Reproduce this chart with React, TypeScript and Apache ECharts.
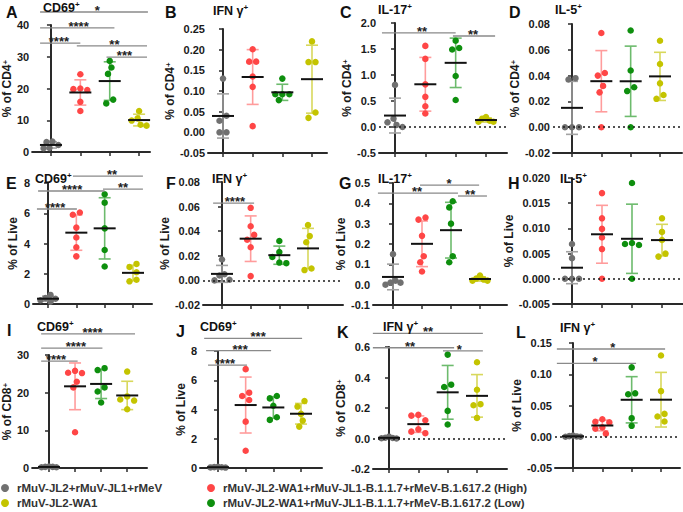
import { useEffect, useRef } from "react";
import * as echarts from "echarts";

const FONT = "'Liberation Sans', Arial, Helvetica, sans-serif";

const GROUPS = [
  "rMuV-JL2+rMuV-JL1+rMeV",
  "rMuV-JL2-WA1+rMuV-JL1-B.1.1.7+rMeV-B.1.617.2 (High)",
  "rMuV-JL2-WA1+rMuV-JL1-B.1.1.7+rMeV-B.1.617.2 (Low)",
  "rMuV-JL2-WA1",
];
const POINT_COLORS = ["#707070", "#ff4646", "#0e8f0e", "#c4c400"];
const ERR_COLORS = ["#a3a3a3", "#ff9c9c", "#6dbb6d", "#d8d85c"];

// values per group: [grey, red(High), green(Low), yellow]
const cd4CD69 = [[3.3, 3.1, 2.2, 1.3, 1.2], [24.5, 20.0, 19.8, 19.5, 15.8, 12.9], [28.7, 26.6, 24.6, 16.5, 15.3], [12.9, 10.6, 9.9, 8.6, 8.3]];
const cd4IFNg = [[0.13, 0.04, 0.028, 0, 0], [0.201, 0.171, 0.171, 0.135, 0.11, 0.015], [0.13, 0.092, 0.092, 0.092, 0.078], [0.22, 0.17, 0.17, 0.048, 0.035]];
const cd4IL17 = [[0.81, 0.16, 0.09, 0.04, 0.0], [1.56, 1.31, 0.82, 0.58, 0.4, 0.26], [1.66, 1.52, 1.49, 0.98, 0.52], [0.19, 0.16, 0.12, 0.1, 0.1]];
const cd4IL5 = [[0.038, 0.037, 0, 0, 0], [0.073, 0.042, 0.04, 0.032, 0.027, 0], [0.075, 0.044, 0.031, 0.028, 0], [0.067, 0.049, 0.034, 0.025, 0.022]];
const liveCD69 = [[0.6, 0.4, 0.35, 0.25, 0.15], [6.05, 5.9, 5.05, 4.4, 3.75, 3.15], [7.26, 6.7, 5.0, 3.57, 2.48], [2.65, 2.45, 2.1, 1.6, 1.5]];
const liveIFNg = [[0.017, 0.005, 0.004, 0.0005, 0], [0.059, 0.044, 0.037, 0.033, 0.027, 0.0035], [0.032, 0.023, 0.019, 0.0145, 0.014], [0.045, 0.036, 0.031, 0.0097, 0.0084]];
const liveIL17 = [[0.15, 0.02, 0.01, 0.01, 0.0], [0.33, 0.32, 0.24, 0.14, 0.11, 0.065], [0.41, 0.38, 0.3, 0.14, 0.11], [0.045, 0.03, 0.025, 0.02, 0.02]];
const liveIL5 = [[0.0069, 0.0041, 0, 0, 0], [0.017, 0.012, 0.0099, 0.0082, 0.0059, 0], [0.019, 0.0071, 0.0069, 0.0067, 0], [0.012, 0.0093, 0.0077, 0.005, 0.0044]];
const cd8CD69 = [[0.4, 0.3, 0.3, 0.2, 0.2], [25.8, 25.3, 25.2, 22.9, 21.4, 9.5], [26.5, 26.0, 21.4, 20.3, 17.4], [25.6, 19.0, 18.2, 17.9, 15.6]];
const liveCD69b = [[0.08, 0.06, 0.05, 0.04, 0.03], [6.76, 5.15, 4.92, 4.65, 3.17, 1.18], [4.92, 4.76, 4.26, 3.47, 3.29], [4.58, 4.2, 3.7, 3.24, 2.83]];
const cd8IFNg = [[0.012, 0.005, 0.003, 0.002, 0], [0.155, 0.15, 0.12, 0.06, 0.045, 0.035], [0.55, 0.353, 0.338, 0.181, 0.092], [0.5, 0.32, 0.225, 0.218, 0.135]];
const liveIFNgb = [[0.002, 0.001, 0.0005, 0, 0], [0.028, 0.024, 0.023, 0.015, 0.013, 0.005], [0.111, 0.0695, 0.068, 0.0297, 0.0175], [0.13, 0.073, 0.0366, 0.0324, 0.0244]];

const PANEL_DATA = [cd4CD69, cd4IFNg, cd4IL17, cd4IL5, liveCD69, liveIFNg, liveIL17, liveIL5, cd8CD69, liveCD69b, cd8IFNg, liveIFNgb];
const PANEL_LETTERS = ["A", "B", "C", "D", "E", "F", "G", "H", "I", "J", "K", "L"];
const PANEL_TITLES = ["CD69", "IFN γ", "IL-17", "IL-5", "CD69", "IFN γ", "IL-17", "IL-5", "CD69", "CD69", "IFN γ", "IFN γ"];
const Y_NAMES = ["CD4", "CD4", "CD4", "CD4", "Live", "Live", "Live", "Live", "CD8", "Live", "CD8", "Live"];
// [min, max, interval]
const Y_RANGES = [[0, 40, 10], [-0.05, 0.25, 0.05], [-0.5, 2, 0.5], [-0.02, 0.08, 0.02], [0, 8, 2], [-0.02, 0.08, 0.02], [-0.1, 0.5, 0.1], [-0.005, 0.02, 0.005], [0, 30, 10], [0, 8, 2], [-0.2, 0.6, 0.2], [-0.05, 0.15, 0.05]];
const Y_DECIMALS = [0, 2, 1, 2, 0, 2, 1, 3, 0, 0, 1, 2];
const ZERO_LINE = [false, false, true, true, false, true, false, true, false, false, true, true];

// significance brackets: [fromGroup, toGroup, yValue, starsX, stars]
const sigA: [number, number, number, number, string][] = [[-0.37, 3.3, 44.1, 1.58, "*"], [-0.37, 2.16, 39.1, 0.94, "****"], [-0.37, 1.0, 34.3, 0.27, "****"], [0.88, 3.27, 33.4, 2.16, "**"], [1.89, 3.27, 29.9, 2.5, "***"]];
const sigC: [number, number, number, number, string][] = [[-0.43, 2.0, 1.81, 0.89, "**"], [1.91, 3.3, 1.75, 2.57, "**"]];
const sigE: [number, number, number, number, string][] = [[0.88, 3.35, 8.46, 2.26, "**"], [-0.35, 2.0, 7.47, 0.85, "****"], [1.94, 3.35, 7.6, 2.65, "**"], [-0.39, 1.02, 6.28, 0.25, "****"]];
const sigF: [number, number, number, number, string][] = [[-0.31, 1.12, 0.0629, 0.45, "****"]];
const sigG: [number, number, number, number, string][] = [[0.93, 2.97, 0.49, 1.93, "*"], [-0.52, 2.24, 0.45, 0.83, "**"], [2.24, 3.24, 0.436, 2.66, "**"]];
const sigI: [number, number, number, number, string][] = [[-0.3, 3.3, 35.6, 1.67, "****"], [-0.3, 2.05, 31.8, 1.03, "****"], [-0.3, 1.1, 28.4, 0.27, "****"]];
const sigJ: [number, number, number, number, string][] = [[-0.5, 3.04, 8.87, 1.45, "***"], [-0.43, 1.92, 8.02, 0.8, "***"], [-0.36, 1.05, 7.04, 0.25, "****"]];
const sigK: [number, number, number, number, string][] = [[-0.55, 3.2, 0.69, 1.33, "**"], [-0.55, 2.22, 0.595, 0.72, "**"], [1.84, 3.2, 0.574, 2.4, "*"]];
const sigL: [number, number, number, number, string][] = [[-0.55, 3.14, 0.1404, 1.36, "*"], [-0.55, 2.15, 0.1175, 0.75, "*"]];
const PANEL_SIGS = [sigA, [], sigC, [], sigE, sigF, sigG, [], sigI, sigJ, sigK, sigL];

// layout (pixels): [axisX, axisEndX, firstGroupX, lastGroupX, yTopPx, yBottomPx, nameGap, letterX, letterY, titleX, titleY]
const LAYOUT = [
  [31, 150, 50, 139, 25, 152, 17, 6, 4, 43, 0],
  [208, 327, 223, 312, 29, 153, 29, 165, 4, 213, 3],
  [379, 507, 395, 486, 23, 153, 25, 340, 4, 378, 2],
  [553, 682, 572, 660, 24, 153, 27, 509, 4, 555, 2],
  [33, 152, 48, 133, 183, 304, 14, 6, 175, 35, 171],
  [203, 343, 222, 308, 182, 305, 27, 166, 175, 212, 171],
  [373, 507, 393, 480, 183, 305, 20, 339, 175, 378, 171],
  [553, 683, 572, 662, 178, 304, 36, 508, 175, 560, 171],
  [31, 147, 48, 127, 355, 468, 13, 7, 322, 37, 319],
  [200, 322, 218, 301, 351, 468, 9, 176, 323, 200, 319],
  [373, 507, 389, 477, 347, 469, 19, 337, 324, 383, 319],
  [555, 680, 573, 661, 343, 468, 28, 516, 324, 560, 320],
];

function mean(a: number[]) {
  return a.reduce((s, v) => s + v, 0) / a.length;
}
function sd(a: number[]) {
  const m = mean(a);
  return Math.sqrt(a.reduce((s, v) => s + (v - m) * (v - m), 0) / (a.length - 1));
}

// horizontal spreading of overlapping dots (returns offsets in group units)
function swarm(vals: number[], pxPerUnit: number, groupPx: number) {
  const D = 6.6;
  const HALF_MAX = 7.5;
  const idx = vals.map((_, k) => k).sort((a, b) => vals[b] - vals[a]);
  const offPx = new Array(vals.length).fill(0);
  const placed: number[] = [];
  const cands = [0, -1, 1, -2, 2, -3, 3, -4, 4, -5, 5, -6, 6];
  idx.forEach((k) => {
    const y = vals[k] * pxPerUnit;
    for (const c of cands) {
      const x = c * 3.5;
      const ok = placed.every((q) => {
        const dx = offPx[q] - x;
        const dy = vals[q] * pxPerUnit - y;
        return dx * dx + dy * dy >= D * D;
      });
      if (ok) {
        offPx[k] = x;
        break;
      }
    }
    placed.push(k);
  });
  // centre each chain of vertically-touching dots and keep it within the mean bar
  let cluster = [idx[0]];
  const flush = () => {
    const xs = cluster.map((k) => offPx[k]);
    const lo = Math.min(...xs);
    const hi = Math.max(...xs);
    const mid = (lo + hi) / 2;
    const half = (hi - lo) / 2;
    const f = half > HALF_MAX ? HALF_MAX / half : 1;
    cluster.forEach((k) => (offPx[k] = (offPx[k] - mid) * f));
  };
  for (let j = 1; j < idx.length; j++) {
    if ((vals[idx[j - 1]] - vals[idx[j]]) * pxPerUnit < D) cluster.push(idx[j]);
    else {
      flush();
      cluster = [idx[j]];
    }
  }
  flush();
  return offPx.map((o) => o / groupPx);
}

const AXIS_COLOR = "#2a2a2a";

function buildOption() {
  const grid: any[] = [];
  const xAxis: any[] = [];
  const yAxis: any[] = [];
  const series: any[] = [];
  const title: any[] = [];

  PANEL_DATA.forEach((groups, i) => {
    const [axisX, endX, c0, c3, yTop, yBot, gap, lx, ly, tx, ty] = LAYOUT[i];
    const groupPx = (c3 - c0) / 3;
    const xmin = (axisX - c0) / groupPx;
    const xmax = (endX - c0) / groupPx;
    const [ymin, ymax, step] = Y_RANGES[i];
    const pxPerUnit = (yBot - yTop) / (ymax - ymin);
    const dec = Y_DECIMALS[i];

    grid.push({ left: axisX, top: yTop, width: endX - axisX, height: yBot - yTop });
    xAxis.push({
      type: "value",
      gridIndex: i,
      min: xmin,
      max: xmax,
      axisLine: { show: true, onZero: false, lineStyle: { color: AXIS_COLOR, width: 2 } },
      axisTick: { show: true, customValues: [0, 1, 2, 3], length: 4, lineStyle: { color: AXIS_COLOR, width: 1.5 } },
      axisLabel: { show: false },
      splitLine: { show: false },
    });
    const yName = Y_NAMES[i] === "Live" ? "% of Live" : `% of ${Y_NAMES[i]}{s|+}`;
    yAxis.push({
      type: "value",
      gridIndex: i,
      min: ymin,
      max: ymax,
      interval: step,
      name: yName,
      nameLocation: "middle",
      nameRotate: 90,
      nameGap: gap,
      nameTextStyle: {
        fontFamily: FONT,
        fontSize: 12,
        fontWeight: "bold",
        color: "#1a1a1a",
        rich: { s: { fontFamily: FONT, fontSize: 8, fontWeight: "bold", color: "#1a1a1a", verticalAlign: "top" } },
      },
      axisLine: { show: true, lineStyle: { color: AXIS_COLOR, width: 2 } },
      axisTick: { show: true, length: 4, lineStyle: { color: AXIS_COLOR, width: 1.5 } },
      axisLabel: {
        fontFamily: FONT,
        fontSize: 11,
        fontWeight: "bold",
        color: "#1a1a1a",
        margin: 3,
        formatter: (v: number) => v.toFixed(dec),
      },
      splitLine: { show: false },
    });

    title.push({
      text: PANEL_LETTERS[i],
      left: lx,
      top: ly,
      padding: 0,
      textStyle: { fontFamily: FONT, fontSize: 16, fontWeight: "bold", color: "#111" },
    });
    title.push({
      text: `${PANEL_TITLES[i]}{s|+}`,
      left: tx,
      top: ty,
      padding: 0,
      textStyle: {
        fontFamily: FONT,
        fontSize: 12.5,
        fontWeight: "bold",
        color: "#111",
        lineHeight: 15,
        rich: { s: { fontFamily: FONT, fontSize: 8, fontWeight: "bold", color: "#111", verticalAlign: "top", lineHeight: 15 } },
      },
    });

    const stats = groups.map((vals, g) => [g, mean(vals), sd(vals)]);

    series.push({
      type: "custom",
      xAxisIndex: i,
      yAxisIndex: i,
      silent: true,
      clip: false,
      z: 2,
      encode: { x: 0, y: 1 },
      data: stats,
      renderItem: (_p: any, api: any) => {
        const g = api.value(0);
        const m = api.value(1);
        const s = api.value(2);
        const top = api.coord([g, m + s]);
        const bot = api.coord([g, m - s]);
        const col = ERR_COLORS[g];
        const st = { stroke: col, lineWidth: 1.6 };
        return {
          type: "group",
          children: [
            { type: "line", shape: { x1: top[0], y1: top[1], x2: bot[0], y2: bot[1] }, style: st },
            { type: "line", shape: { x1: top[0] - 6, y1: top[1], x2: top[0] + 6, y2: top[1] }, style: st },
            { type: "line", shape: { x1: bot[0] - 6, y1: bot[1], x2: bot[0] + 6, y2: bot[1] }, style: st },
          ],
        };
      },
    });

    groups.forEach((vals, g) => {
      const off = swarm(vals, pxPerUnit, groupPx);
      const s: any = {
        type: "scatter",
        name: GROUPS[g],
        xAxisIndex: i,
        yAxisIndex: i,
        silent: true,
        symbol: "circle",
        symbolSize: 6.5,
        z: 3,
        itemStyle: { color: POINT_COLORS[g], opacity: 1 },
        data: vals.map((v, k) => [g + off[k], v]),
      };
      if (g === 0 && ZERO_LINE[i]) {
        s.markLine = {
          silent: true,
          symbol: ["none", "none"],
          label: { show: false },
          lineStyle: { type: [2, 3], color: "#1a1a1a", width: 1.5 },
          data: [{ yAxis: 0 }],
        };
      }
      series.push(s);
    });

    series.push({
      type: "custom",
      xAxisIndex: i,
      yAxisIndex: i,
      silent: true,
      clip: false,
      z: 4,
      encode: { x: 0, y: 1 },
      data: stats,
      renderItem: (_p: any, api: any) => {
        const c = api.coord([api.value(0), api.value(1)]);
        return {
          type: "line",
          shape: { x1: c[0] - 11, y1: c[1], x2: c[0] + 11, y2: c[1] },
          style: { stroke: "#111", lineWidth: 2 },
        };
      },
    });

    const sigs = PANEL_SIGS[i];
    if (sigs.length) {
      series.push({
        type: "custom",
        xAxisIndex: i,
        yAxisIndex: i,
        silent: true,
        clip: false,
        z: 5,
        encode: { x: [0, 1, 3], y: 2 },
        data: sigs.map((b) => [b[0], b[1], b[2], b[3]]),
        renderItem: (p: any, api: any) => {
          const b = sigs[p.dataIndex];
          const a = api.coord([b[0], b[2]]);
          const e = api.coord([b[1], b[2]]);
          const t = api.coord([b[3], b[2]]);
          return {
            type: "group",
            children: [
              { type: "line", shape: { x1: a[0], y1: a[1], x2: e[0], y2: e[1] }, style: { stroke: "#8a8a8a", lineWidth: 1.3 } },
              {
                type: "text",
                x: t[0],
                y: t[1] - 1.5,
                style: {
                  text: b[4],
                  fill: "#222",
                  font: `bold 13px ${FONT}`,
                  textAlign: "center",
                  textVerticalAlign: "middle",
                },
              },
            ],
          };
        },
      });
    }
  });

  const legendText = { fontFamily: FONT, fontSize: 11.5, fontWeight: "bold", color: "#333" };
  const legendBase = { orient: "horizontal", icon: "circle", itemWidth: 14, itemHeight: 8, itemGap: 0, padding: 0, textStyle: legendText, selectedMode: false };
  const legend = [
    { ...legendBase, data: [GROUPS[0]], left: 1, top: 482 },
    { ...legendBase, data: [GROUPS[1]], left: 207, top: 482 },
    { ...legendBase, data: [GROUPS[3]], left: 1, top: 497 },
    { ...legendBase, data: [GROUPS[2]], left: 207, top: 497 },
  ];

  return { animation: false, backgroundColor: "#ffffff", grid, xAxis, yAxis, series, title, legend };
}

export default function App() {
  const ref = useRef<HTMLDivElement>(null);
  useEffect(() => {
    const chart = echarts.init(ref.current!, null, { renderer: "svg" });
    chart.setOption(buildOption() as any);
    return () => chart.dispose();
  }, []);
  return <div ref={ref} style={{ position: "absolute", left: 0, top: 0, width: 683, height: 512 }} />;
}
